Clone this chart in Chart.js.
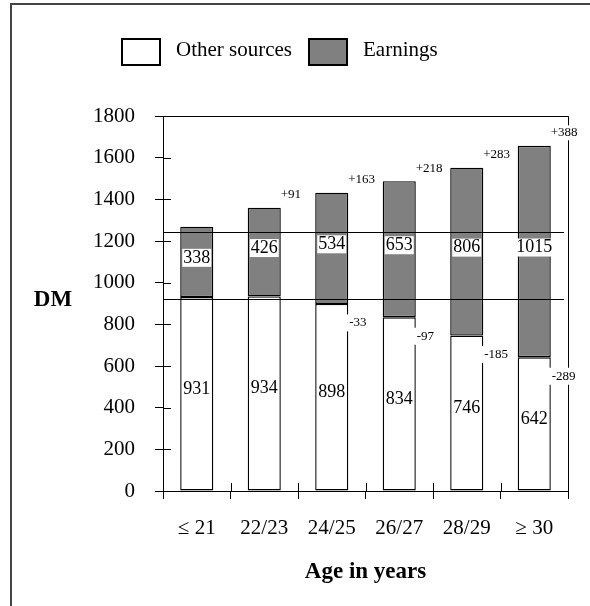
<!DOCTYPE html>
<html>
<head>
<meta charset="utf-8">
<script src="https://cdn.jsdelivr.net/npm/chart.js@4"></script>
<style>
  body { margin: 0; background: #fff; }
  #wrap { width: 590px; height: 606px; }
</style>
</head>
<body>
<div id="wrap"><canvas id="chart" width="590" height="606"></canvas></div>
<script>
const ageGroups = ['\u2264 21', '22/23', '24/25', '26/27', '28/29', '\u2265 30'];
const otherSources = [931, 934, 898, 834, 746, 642];
const earnings = [338, 426, 534, 653, 806, 1015];
// change vs. the youngest group, as printed beside the bars
const totalChange = ['', '+91', '+163', '+218', '+283', '+388'];
const otherChange = ['', '', '-33', '-97', '-185', '-289'];
const refLines = [1245, 920];

const SERIF = '"Liberation Serif", "Times New Roman", serif';

function labelBox(ctx, text, x, y, align, pad) {
  const w = ctx.measureText(text).width;
  const h = parseInt(ctx.font, 10);
  const left = align === 'left' ? x : x - w / 2;
  ctx.fillStyle = '#fff';
  ctx.fillRect(left - pad, y - h / 2 - pad + 1, w + pad * 2, h + pad * 2 - 2);
  ctx.fillStyle = '#000';
  ctx.textAlign = align;
  ctx.fillText(text, x, y);
}

// extra drawing: ref lines, value labels, legend, frame
const decorations = {
  id: 'decorations',
  afterDraw(chart) {
    const { ctx, chartArea: { left, right, top, bottom }, scales: { x, y } } = chart;
    const lowMeta = chart.getDatasetMeta(0).data;
    const topMeta = chart.getDatasetMeta(1).data;
    ctx.save();

    // outer frame of the figure
    ctx.strokeStyle = '#444';
    ctx.lineWidth = 2;
    ctx.beginPath();
    ctx.moveTo(11, 606);
    ctx.lineTo(11, 4);
    ctx.lineTo(590, 4);
    ctx.stroke();

    ctx.strokeStyle = '#000';
    ctx.lineWidth = 1;
    // inner halves of the tick marks
    ctx.beginPath();
    y.ticks.forEach(t => {
      const py = Math.round(y.getPixelForValue(t.value)) + 0.5;
      ctx.moveTo(left, py);
      ctx.lineTo(left + 8, py);
    });
    for (let i = 0; i < ageGroups.length; i++) {
      const px = Math.round(x.getPixelForValue(i) + (x.getPixelForValue(1) - x.getPixelForValue(0)) / 2) + 0.5;
      ctx.moveTo(px, bottom - 8);
      ctx.lineTo(px, bottom);
    }
    // top and right border of the plot
    ctx.moveTo(left, Math.round(top) + 0.5);
    ctx.lineTo(Math.round(right) + 0.5, Math.round(top) + 0.5);
    ctx.lineTo(Math.round(right) + 0.5, bottom + 7);
    ctx.stroke();

    // reference lines
    ctx.beginPath();
    refLines.forEach(v => {
      const py = Math.round(y.getPixelForValue(v)) + 0.5;
      ctx.moveTo(left, py);
      ctx.lineTo(right - 4, py);
    });
    ctx.stroke();

    ctx.textBaseline = 'middle';
    // values inside bars
    ctx.font = '18px ' + SERIF;
    ageGroups.forEach((g, i) => {
      const lo = lowMeta[i], hi = topMeta[i];
      ctx.fillStyle = '#000';
      ctx.textAlign = 'center';
      ctx.fillText(String(otherSources[i]), lo.x, (lo.y + lo.base) / 2 - 5);
      labelBox(ctx, String(earnings[i]), hi.x, (hi.y + hi.base) / 2 - 4, 'center', 1);
    });

    // change annotations
    ctx.font = '13px ' + SERIF;
    ageGroups.forEach((g, i) => {
      const lo = lowMeta[i], hi = topMeta[i];
      const edge = hi.x + hi.width / 2;
      if (totalChange[i]) labelBox(ctx, totalChange[i], edge, hi.y - 13, 'left', 2);
      if (otherChange[i]) labelBox(ctx, otherChange[i], edge + 1, lo.y + 19, 'left', 3);
    });

    // axis name on the left
    ctx.font = 'bold 23px ' + SERIF;
    ctx.textAlign = 'center';
    ctx.fillStyle = '#000';
    ctx.fillText('DM', 53, 300);

    // legend
    ctx.lineWidth = 2;
    ctx.strokeStyle = '#000';
    ctx.fillStyle = '#fff';
    ctx.fillRect(122, 39, 38, 26);
    ctx.strokeRect(122, 39, 38, 26);
    ctx.fillStyle = '#808080';
    ctx.fillRect(309, 39, 38, 26);
    ctx.strokeRect(309, 39, 38, 26);
    ctx.font = '21px ' + SERIF;
    ctx.fillStyle = '#000';
    ctx.textAlign = 'left';
    ctx.fillText('Other sources', 176, 50);
    ctx.fillText('Earnings', 363, 50);
    ctx.restore();
  }
};

const data = {
  labels: ageGroups,
  datasets: [
    {
      label: 'Other sources',
      data: otherSources,
      backgroundColor: '#ffffff',
      borderColor: '#000000',
      borderWidth: 1.4,
      borderSkipped: false
    },
    {
      label: 'Earnings',
      data: earnings,
      backgroundColor: '#808080',
      borderColor: '#000000',
      borderWidth: 1.4,
      borderSkipped: false
    }
  ]
};

const config = {
  type: 'bar',
  data,
  options: {
    responsive: false,
    animation: false,
    barPercentage: 0.49,
    categoryPercentage: 1,
    layout: {
      padding: { left: 0, top: 116, right: 22, bottom: 0 }
    },
    plugins: {
      legend: { display: false },
      tooltip: { enabled: false }
    },
    scales: {
      x: {
        stacked: true,
        afterFit(scale) { scale.height = 115; },
        grid: { drawOnChartArea: false, drawTicks: true, tickLength: 8, color: '#000', offset: true },
        border: { color: '#000', width: 1 },
        ticks: { color: '#000', padding: 17, font: { family: SERIF, size: 21 }, maxRotation: 0 },
        title: {
          display: true,
          text: 'Age in years',
          color: '#000',
          font: { family: SERIF, size: 23, weight: 'bold' },
          padding: { top: 0, bottom: 20 }
        }
      },
      y: {
        stacked: true,
        min: 0,
        max: 1800,
        afterFit(scale) { scale.width = 163; },
        grid: { drawOnChartArea: false, drawTicks: true, tickLength: 8, color: '#000' },
        border: { color: '#000', width: 1 },
        ticks: {
          stepSize: 200,
          color: '#000',
          padding: 20,
          font: { family: SERIF, size: 21 },
          callback: v => String(v)
        }
      }
    }
  },
  plugins: [decorations]
};

const myChart = new Chart(document.getElementById('chart'), config);
</script>
</body>
</html>
